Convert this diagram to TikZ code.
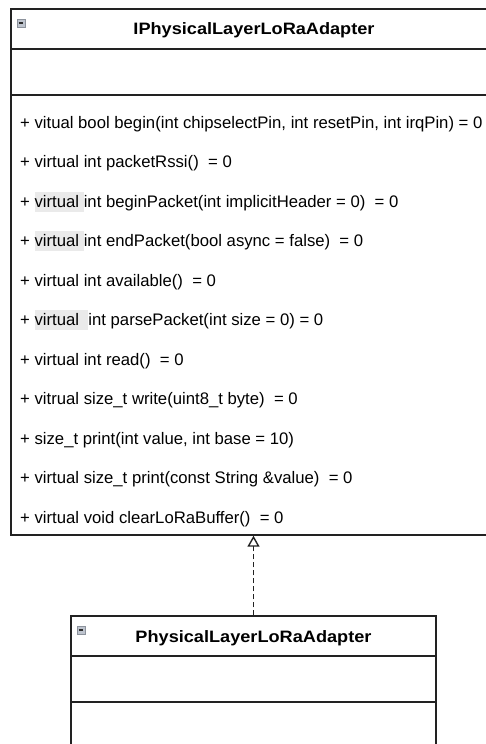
\documentclass[tikz,border=0pt]{standalone}
\usepackage{fontspec}
\setmainfont{Liberation Sans}
\usepackage{graphicx}
\usetikzlibrary{arrows.meta}
\definecolor{umlline}{RGB}{34,34,34}
\definecolor{hlgray}{RGB}{234,234,234}
\definecolor{iconfill}{RGB}{190,196,206}
\definecolor{iconedge}{RGB}{140,146,156}
\definecolor{icondash}{RGB}{45,45,45}
% light grey marker behind a word
\newcommand{\vhl}[1]{{\setlength{\fboxsep}{0pt}\colorbox{hlgray}{\rule[-4.5pt]{0pt}{20pt}#1}}}
\tikzset{
  classbox/.style={draw=umlline, line width=1.4pt, rectangle, inner sep=0pt},
  divider/.style={draw=umlline, line width=1.4pt},
  classname/.style={anchor=base, inner sep=0pt, font=\fontsize{16.5}{19}\selectfont\bfseries},
  member/.style={anchor=base west, inner sep=0pt, font=\fontsize{16.7}{20}\selectfont},
  realize/.style={draw=umlline, line width=1.4pt, dash pattern=on 5pt off 3pt,
    -{Triangle[open, length=11pt, width=12pt]}},
  collapse/.style={draw=iconedge, fill=iconfill, line width=0.8pt},
  collapsebar/.style={draw=icondash, line width=2pt},
}
\begin{document}
\begin{tikzpicture}[x=1pt,y=-1pt]
\useasboundingbox (0,0) rectangle (485,744);

% interface class
\node[classbox, minimum width=486pt, minimum height=526pt] (iface) at (254,272) {};
\draw[divider] (iface.west |- 0,49) -- (iface.east |- 0,49);
\draw[divider] (iface.west |- 0,95) -- (iface.east |- 0,95);
\draw[collapse] (17,19) rectangle (25,27);
\draw[collapsebar] (18.6,23) -- (23.4,23);
\node[classname] (ifacename) at (254,34.3) {\scalebox{1.1}[1]{IPhysicalLayerLoRaAdapter}};

\node[member] (m1) at (20,128) {+ vitual bool begin(int chipselectPin, int resetPin, int irqPin) = 0};
\node[member] (m2) at (20,167.5) {+ virtual int packetRssi()\ \ = 0};
\node[member] (m3) at (20,207) {+ \vhl{virtual\ }int beginPacket(int implicitHeader = 0)\ \ = 0};
\node[member] (m4) at (20,246.5) {+ \vhl{virtual\ }int endPacket(bool async = false)\ \ = 0};
\node[member] (m5) at (20,286) {+ virtual int available()\ \ = 0};
\node[member] (m6) at (20,325.5) {+ \vhl{virtual\ \ }int parsePacket(int size = 0) = 0};
\node[member] (m7) at (20,365) {+ virtual int read()\ \ = 0};
\node[member] (m8) at (20,404.5) {+ vitrual size\_t write(uint8\_t byte)\ \ = 0};
\node[member] (m9) at (20,444) {+ size\_t print(int value, int base = 10)};
\node[member] (m10) at (20,483.5) {+ virtual size\_t print(const String \&value)\ \ = 0};
\node[member] (m11) at (20,523) {+ virtual void clearLoRaBuffer()\ \ = 0};

% implementing class
\node[classbox, minimum width=365pt, minimum height=150pt] (impl) at (253.5,691) {};
\draw[divider] (impl.west |- 0,656) -- (impl.east |- 0,656);
\draw[divider] (impl.west |- 0,702) -- (impl.east |- 0,702);
\draw[collapse] (77,626) rectangle (85,634);
\draw[collapsebar] (78.6,630) -- (83.4,630);
\node[classname] (implname) at (253.5,642) {\scalebox{1.1}[1]{PhysicalLayerLoRaAdapter}};

% realization
\draw[realize] (impl.north) -- (impl.north |- iface.south);
\end{tikzpicture}
\end{document}
